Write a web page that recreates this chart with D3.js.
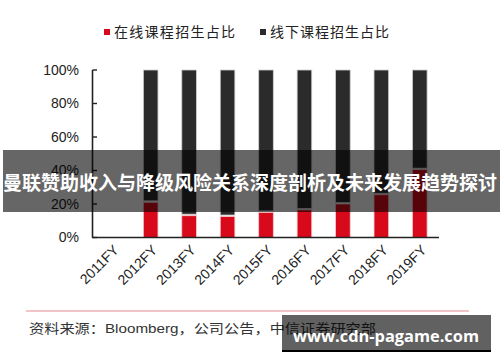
<!DOCTYPE html>
<html><head><meta charset="utf-8">
<script src="https://cdn.jsdelivr.net/npm/d3@7"></script>
<style>
html,body{margin:0;padding:0;background:#fff;}
svg{display:block;}
</style></head>
<body>
<script>
const categories = ["2011FY","2012FY","2013FY","2014FY","2015FY","2016FY","2017FY","2018FY","2019FY"];
const onlineShare = [null, 21, 13, 12.5, 15, 16.5, 20, 25.5, 40.5];
const yTicks = [0, 20, 40, 60, 80, 100];
const legendLabels = ["在线课程招生占比", "线下课程招生占比"];
const sourceText = "资料来源：Bloomberg，公司公告，中信证券研究部";
const bannerText = "曼联赞助收入与降级风险关系深度剖析及未来发展趋势探讨";
const watermarkText = "www.cdn-pagame.com";

const W = 500, H = 362;
const RED = "#d7091b", BLACK = "#2b2b2b";
const svg = d3.select("body").append("svg").attr("width", W).attr("height", H);

const x = d3.scaleBand().domain(categories).range([93, 439]).paddingInner(0.62).paddingOuter(0.31);
const y = d3.scaleLinear().domain([0, 100]).range([237.5, 70]);

const data = categories.map((c, i) => ({c, v: onlineShare[i]})).filter(d => d.v !== null);

// bars
const g = svg.append("g");
g.selectAll("rect.off").data(data).join("rect")
  .attr("x", d => x(d.c)).attr("width", x.bandwidth())
  .attr("y", y(100)).attr("height", d => y(d.v) - y(100) - 1.5)
  .attr("fill", BLACK).attr("stroke", "#cfcfcf").attr("stroke-width", 0.8);
g.selectAll("rect.on").data(data).join("rect")
  .attr("x", d => x(d.c)).attr("width", x.bandwidth())
  .attr("y", d => y(d.v)).attr("height", d => y(0) - y(d.v))
  .attr("fill", RED).attr("stroke", "#f3c9cc").attr("stroke-width", 0.8);

// y axis
const ya = svg.append("g");
ya.append("line").attr("x1", 92.5).attr("x2", 92.5).attr("y1", y(100)).attr("y2", y(0))
  .attr("stroke", "#222").attr("stroke-width", 1.6);
ya.selectAll("line.t").data(yTicks).join("line")
  .attr("x1", 92.5).attr("x2", 97).attr("y1", d => y(d)).attr("y2", d => y(d))
  .attr("stroke", "#222").attr("stroke-width", 1.4);
ya.selectAll("text").data(yTicks).join("text")
  .attr("x", 79).attr("y", d => y(d)).attr("dy", "0.35em")
  .attr("text-anchor", "end").attr("font-family", "Liberation Sans, Arial, sans-serif")
  .attr("font-size", 14).attr("fill", "#222").text(d => d + "%");

// x axis
const xa = svg.append("g");
xa.append("line").attr("x1", 92).attr("x2", 439).attr("y1", y(0)).attr("y2", y(0))
  .attr("stroke", "#222").attr("stroke-width", 1.6);
xa.selectAll("text").data(categories).join("text")
  .attr("transform", d => `translate(${x(d) + x.bandwidth()/2 + 4},${y(0) + 10}) rotate(-45)`)
  .attr("text-anchor", "end").attr("dy", "0.35em")
  .attr("font-family", "Liberation Sans, Arial, sans-serif")
  .attr("font-size", 14).attr("fill", "#222").text(d => d);

// legend
const leg = svg.append("g");
const legItems = [{c: RED, x: 104, tx: 114, tl: 121, t: legendLabels[0]}, {c: BLACK, x: 260, tx: 270, tl: 119, t: legendLabels[1]}];
legItems.forEach(it => {
  leg.append("rect").attr("x", it.x).attr("y", 29).attr("width", 6).attr("height", 6).attr("fill", it.c);
  leg.append("text").attr("x", it.tx).attr("y", 32).attr("dy", "0.36em")
    .attr("font-family", "Noto Sans CJK SC, sans-serif").attr("font-size", 14).attr("fill", "#222")
    .attr("textLength", it.tl).attr("lengthAdjust", "spacing").text(it.t);
});

// source
svg.append("line").attr("x1", 26).attr("x2", 469).attr("y1", 311).attr("y2", 311)
  .attr("stroke", "#e8898f").attr("stroke-width", 1.2);
svg.append("text").attr("x", 29).attr("y", 328).attr("dy", "0.35em")
  .attr("font-family", "Liberation Sans, Noto Sans CJK SC, sans-serif").attr("font-size", 13).attr("fill", "#333")
  .attr("textLength", 347).attr("lengthAdjust", "spacingAndGlyphs").text(sourceText);

// banner overlay
svg.append("rect").attr("x", 3).attr("y", 150).attr("width", 497).attr("height", 62)
  .attr("fill", "rgba(0,0,0,0.6)");
svg.append("text").attr("x", 3).attr("y", 183).attr("dy", "0.36em")
  .attr("font-family", "Noto Sans CJK SC, sans-serif").attr("font-weight", "bold")
  .attr("font-size", 19).attr("fill", "#fff")
  .attr("textLength", 494).attr("lengthAdjust", "spacingAndGlyphs").text(bannerText);

// watermark
svg.append("rect").attr("x", 282).attr("y", 315).attr("width", 209).attr("height", 36)
  .attr("fill", "rgba(0,0,0,0.62)");
svg.append("rect").attr("x", 282).attr("y", 350).attr("width", 209).attr("height", 2).attr("fill", "#000");
svg.append("text").attr("x", 293).attr("y", 341.5)
  .attr("font-family", "Open Sans, DejaVu Sans, sans-serif").attr("font-weight", "bold")
  .attr("font-size", 16).attr("fill", "#fff")
  .attr("textLength", 186).attr("lengthAdjust", "spacingAndGlyphs").text(watermarkText);
</script>
</body></html>
